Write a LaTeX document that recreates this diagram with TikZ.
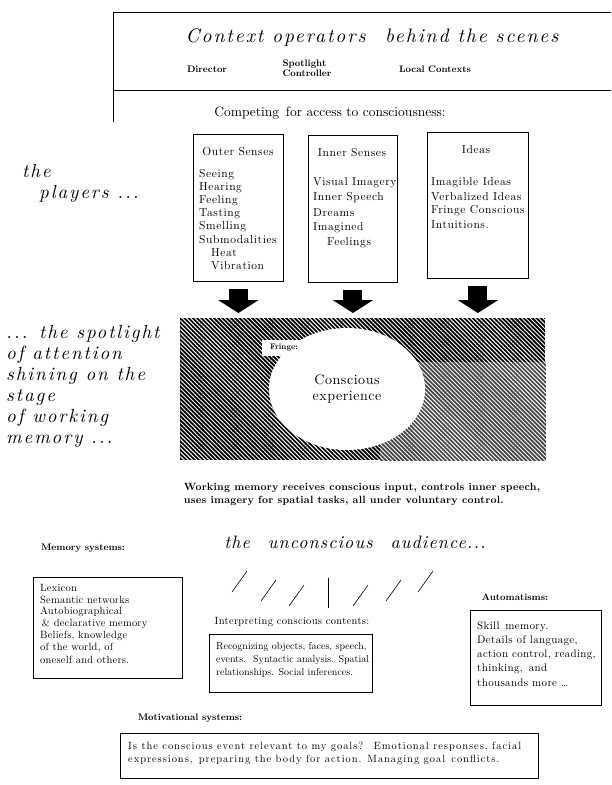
\documentclass[tikz,border=0pt]{standalone}
\usepackage{fontspec}
\setmainfont{lmroman10-regular.otf}[ItalicFont=lmroman10-italic.otf,BoldFont=lmroman10-bold.otf,BoldItalicFont=lmroman10-bolditalic.otf]
\usetikzlibrary{arrows.meta,patterns.meta,shapes.geometric,positioning}

\newcommand{\spaced}[1]{\addfontfeature{LetterSpace=#1}}
\tikzset{
	head/.style={inner sep=0pt, font=\fontsize{19}{21}\selectfont\itshape\spaced{10}},
	lbl/.style={inner sep=0pt, font=\fontsize{9.5}{10}\selectfont\bfseries},
	txt/.style={inner sep=0pt, font=\fontsize{10.5}{12}\selectfont},
	sense/.style={inner sep=0pt, font=\fontsize{11.5}{12}\selectfont\spaced{5}},
	item/.style={txt, anchor=west},
	box/.style={draw, thick, anchor=north west},
	bigarrow/.style={line width=19pt, -{Triangle[width=40pt,length=13pt]}},
	hatch/.style={pattern={Lines[angle=-45,distance=3pt,line width=0.95pt]}, pattern color=white}
}

\begin{document}
\begin{tikzpicture}[x=1pt,y=-1pt]
	\useasboundingbox (0,0) rectangle (611,785);
	
	%BEHIND THE SCENES
	\draw[line width=1pt] (113,122)--(113,12)--(611,12);
	\draw[line width=1pt] (113,90)--(611,90);
	\node[head,font=\fontsize{19.5}{21}\selectfont\itshape\spaced{10}] (title) at (372,38) {Context operators\quad behind the scenes};
	\node[lbl] (director) at (207,69) {Director};
	\node[lbl,align=left] (spotctl) at (307,68) {Spotlight\\Controller};
	\node[lbl] (local) at (435,69) {Local Contexts};
	\node[txt,font=\fontsize{13.5}{14}\selectfont] (compete) at (330,113) {Competing\, for access to consciousness:};
	
	%PLAYERS
	\node[head,align=left,anchor=north west] (players) at (22,164) {the\\\hspace{17pt}players ...};
	\node[box,minimum width=90,minimum height=147] (outer) at (193,134) {};
	\node[box,minimum width=89,minimum height=147] (inner) at (308,135) {};
	\node[box,minimum width=101,minimum height=146] (ideas) at (427,132) {};
	\node[sense] at (238,152) {Outer Senses};
	\node[sense] at (352,153) {Inner Senses};
	\node[sense] at (476,150) {Ideas};
	\foreach \x/\d [count=\i] in {Seeing/0,Hearing/0,Feeling/0,Tasting/0,Smelling/0,Submodalities/0,Heat/12,Vibration/12}
		\node[sense,anchor=west] at (199+\d,162+13*\i) {\x};
	\foreach \x/\d [count=\i] in {Visual Imagery/0,Inner Speech/0,Dreams/0,Imagined/0,Feelings/14}
		\node[sense,anchor=west] at (313+\d,168+15*\i) {\x};
	\foreach \x [count=\i] in {Imagible Ideas,Verbalized Ideas,Fringe Conscious,Intuitions.}
		\node[sense,anchor=west] at (431,169+14*\i) {\x};
	
	%STAGE
	\node[box,draw=none,fill=black,postaction={hatch},minimum width=365,minimum height=142] (stage) at (180,318) {};
	\path[fill=black!72,postaction={hatch}] (380,362) rectangle (stage.south east);
	\node[ellipse,fill=white,minimum width=156,minimum height=122,inner sep=0pt,align=center,
		font=\fontsize{14}{16}\selectfont\spaced{4}] (consc) at (347,389) {Conscious\\experience};
	\node[fill=white,minimum width=44,minimum height=16,inner sep=0pt,
		font=\fontsize{8}{9}\selectfont\bfseries] (fringe) at (284,348) {Fringe:};
	\foreach \b in {outer,inner,ideas}
		\draw[bigarrow,shorten <=7pt,shorten >=5pt] (\b.south) -- (\b.south |- stage.north);
	\node[lbl,font=\fontsize{10.5}{13}\selectfont\bfseries\spaced{2},align=left] (wm) at (362,494)
		{Working memory receives conscious input, controls inner speech,\\uses imagery for spatial tasks, all under voluntary control.};
	
	%SPOTLIGHT TEXT
	\node[head,align=left,anchor=north west] (spotlight) at (6,325)
		{... the spotlight\\of attention\\shining on the\\stage\\of working\\memory ...};
	
	%AUDIENCE
	\node[head,font=\fontsize{18}{21}\selectfont\itshape\spaced{6}] (audience) at (355,542) {the\quad unconscious\quad audience...};
	\foreach \a/\b in {232/592,261/601,289/606}{
		\draw[semithick] (\a,\b)--(\a+15,\b-21);
	}
	\draw[semithick] (328,608)--(328,578);
	\foreach \a/\b in {353/606,386/601,418/592}{
		\draw[semithick] (\a,\b)--(\a+15,\b-21);
	}
	
	%MEMORY
	\node[lbl] (memlbl) at (83,548) {Memory systems:};
	\node[box,minimum width=149,minimum height=101] (memory) at (33,577) {};
	\foreach \x [count=\i] in {Lexicon,Semantic networks,Autobiographical,{\,\& declarative memory},{Beliefs, knowledge},{of the world, of},{oneself and others.}}
		\node[item,font=\fontsize{10.5}{12}\selectfont\spaced{2}] at (40,576+12*\i) {\x};
	
	%INTERPRETING
	\node[txt,font=\fontsize{10.5}{12}\selectfont\spaced{3}] (intlbl) at (292,622) {Interpreting conscious contents:};
	\node[box,minimum width=163,minimum height=58] (interp) at (209,634) {};
	\node[txt,font=\fontsize{10}{13}\selectfont,align=left,anchor=north west] at (216,642)
		{Recognizing objects, faces, speech,\\events.\; Syntactic analysis. Spatial\\relationships. Social inferences.};
	
	%AUTOMATISMS
	\node[lbl] (autlbl) at (515,597) {Automatisms:};
	\node[box,minimum width=131,minimum height=95] (autom) at (470,610) {};
	\foreach \x [count=\i] in {{Skill\, memory.},{Details of language,},{action control, reading,},{thinking,\, and},{thousands more \dots}}
		\node[item,font=\fontsize{11}{12}\selectfont\spaced{3}] at (477,613+14*\i) {\x};
	
	%MOTIVATIONAL
	\node[lbl] (motlbl) at (190,718) {Motivational systems:};
	\node[box,minimum width=418,minimum height=45] (motiv) at (120,733) {};
	\node[txt,font=\fontsize{10.5}{13}\selectfont\spaced{9},align=left,anchor=north west] at (128,742)
		{Is the conscious event relevant to my goals?\quad Emotional responses, facial\\expressions,\, preparing the body for action. Managing goal\, conflicts.};
\end{tikzpicture}
\end{document}
